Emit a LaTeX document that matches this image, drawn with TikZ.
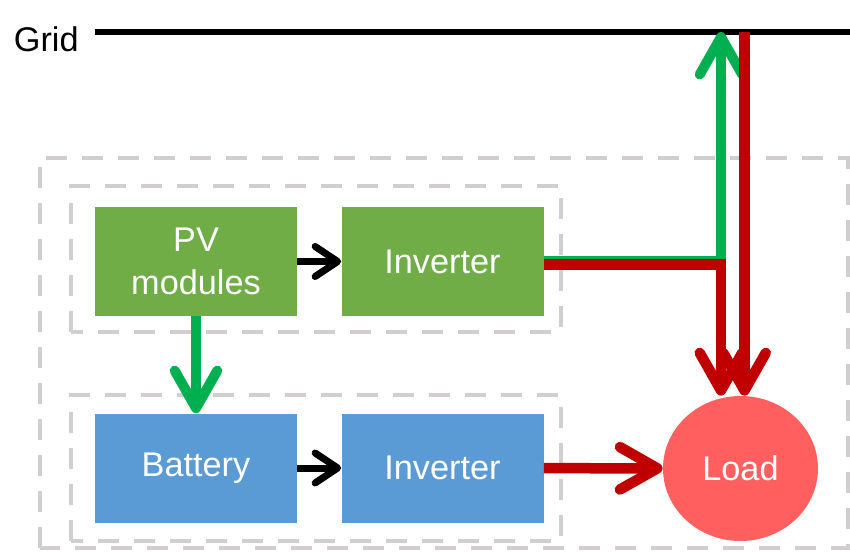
\documentclass[tikz,border=0pt]{standalone}
\usepackage{fontspec}
\setmainfont{Liberation Sans}
\usetikzlibrary{arrows.meta, positioning, shapes.geometric}
\definecolor{pvgreen}{RGB}{112,173,71}
\definecolor{batblue}{RGB}{91,155,213}
\definecolor{loadred}{RGB}{255,95,95}
\definecolor{flowgreen}{RGB}{0,176,80}
\definecolor{flowred}{RGB}{192,0,0}
\definecolor{boxgray}{RGB}{208,206,206}
\tikzset{
  greenblock/.style={rectangle, fill=pvgreen, text=white,
    minimum width=4.04cm, minimum height=2.18cm, align=center,
    font=\fontsize{19.5}{24.5}\selectfont},
  blueblock/.style={rectangle, fill=batblue, text=white,
    minimum width=4.04cm, minimum height=2.18cm, align=center,
    font=\fontsize{19.5}{24.5}\selectfont},
  loadnode/.style={ellipse, fill=loadred, text=white, inner sep=0pt,
    minimum width=3.1cm, minimum height=2.9cm,
    font=\fontsize{19.5}{24.5}\selectfont},
  dashbox/.style={draw=boxgray, line width=0.09cm, dash pattern=on 0.42cm off 0.3cm},
  gridline/.style={line width=0.12cm, color=black},
  arrow/.style={-{Straight Barb[round, length=0.45cm, width=0.6cm]}, line width=0.14cm, color=black},
  greenarrow/.style={-{Straight Barb[round, length=0.75cm, width=0.85cm]}, line width=0.2cm, color=flowgreen},
  redarrow/.style={-{Straight Barb[round, length=0.75cm, width=0.85cm]}, line width=0.21cm, color=flowred}
}
\begin{document}
\begin{tikzpicture}
  \useasboundingbox (0,0) rectangle (17,11.02);

  % Dashed frames
  \draw[dashbox] (0.8,0.06) rectangle (16.96,7.86);
  \draw[dashbox] (1.42,4.38) rectangle (11.22,7.3);
  \draw[dashbox] (1.42,0.2) rectangle (11.22,3.12);

  % Grid bus
  \node[anchor=base west, inner sep=0pt, font=\fontsize{19.5}{24.5}\selectfont] (gridlabel) at (0.27,9.98) {Grid};
  \coordinate (gridstart) at (1.9,10.38);
  \coordinate (gridend) at (17,10.38);
  \draw[gridline] (gridstart) -- (gridend);
  \coordinate (gridup) at (14.42,10.38);
  \coordinate (griddown) at (14.89,10.38);

  % Blocks
  \node[greenblock] (pv) at (3.92,5.79) {PV\\modules};
  \node[greenblock] (invtop) at (8.85,5.79) {Inverter};
  \node[blueblock] (battery) at (3.92,1.66) {Battery};
  \node[blueblock] (invbot) at (8.85,1.66) {Inverter};
  \node[loadnode] (load) at (14.81,1.65) {Load};

  % Power flows
  \draw[arrow] (pv) -- (invtop);
  \draw[arrow] (battery) -- (invbot);
  \draw[greenarrow] (pv) -- (battery);
  \draw[greenarrow] ([yshift=0.01cm]invtop.east) -| (gridup);
  \draw[redarrow] ([yshift=-0.06cm]invtop.east) -| ([xshift=-0.39cm]load.north);
  \draw[redarrow] (griddown) -- (griddown |- load.north);
  \draw[redarrow] (invbot) -- (load);
\end{tikzpicture}
\end{document}
